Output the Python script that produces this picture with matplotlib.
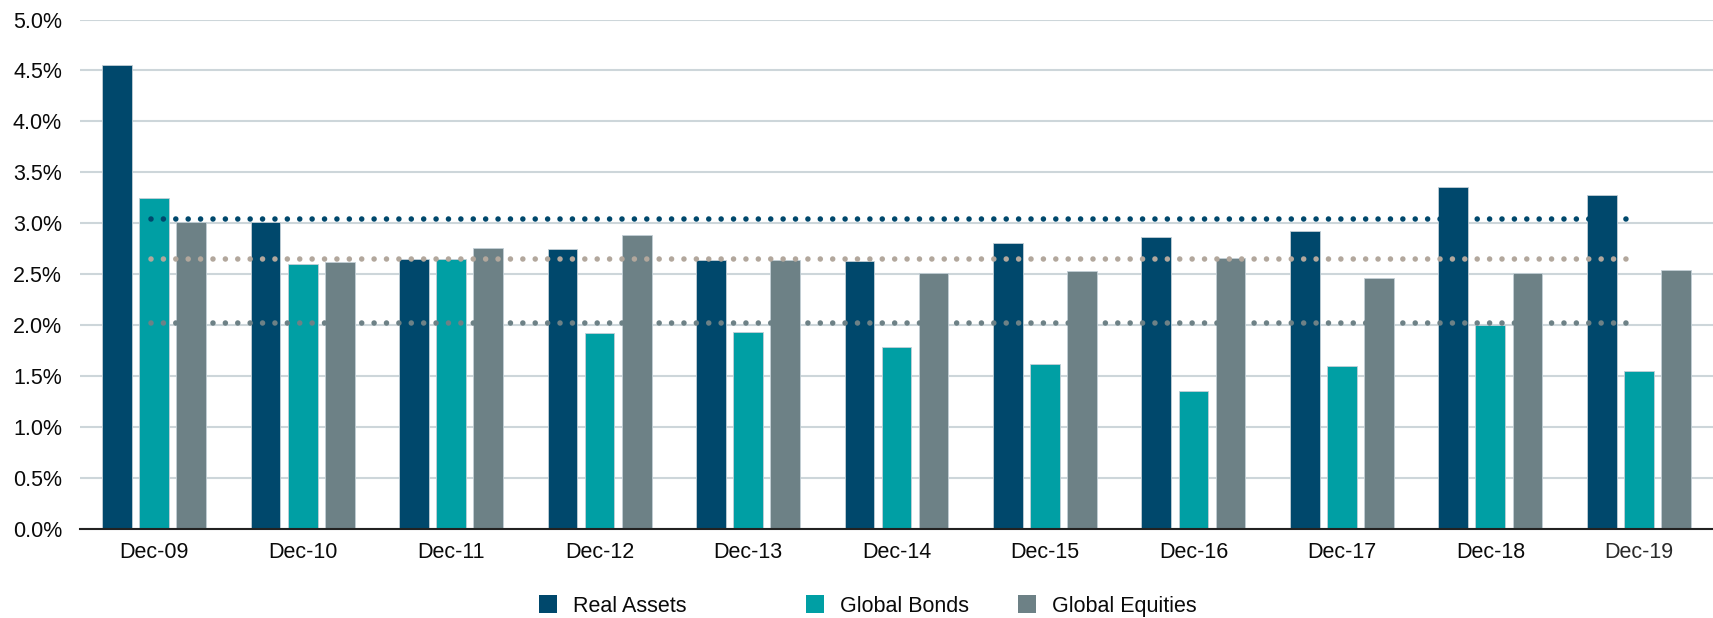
import numpy as np
import matplotlib
matplotlib.use("Agg")
import matplotlib.pyplot as plt
from matplotlib.ticker import StrMethodFormatter, MultipleLocator

plt.rcParams['font.family'] = ['Liberation Sans', 'DejaVu Sans']

categories = ["Dec-09", "Dec-10", "Dec-11", "Dec-12", "Dec-13", "Dec-14",
              "Dec-15", "Dec-16", "Dec-17", "Dec-18", "Dec-19"]
real_assets = [4.55, 3.01, 2.65, 2.75, 2.64, 2.63, 2.81, 2.87, 2.92, 3.36, 3.28]
global_bonds = [3.25, 2.60, 2.65, 1.92, 1.93, 1.79, 1.62, 1.35, 1.60, 2.00, 1.55]
global_equities = [3.01, 2.62, 2.76, 2.89, 2.64, 2.51, 2.53, 2.66, 2.46, 2.51, 2.54]
series_names = ["Real Assets", "Global Bonds", "Global Equities"]

c_navy = "#00486C"
c_teal = "#009FA4"
c_grey = "#6D8186"
c_beige = "#B2A79C"

W, H = 1713, 618
fig = plt.figure(figsize=(W / 100, H / 100), dpi=100)
ax = fig.add_axes([80 / W, 89 / H, (W - 80) / W, (529 - 19.5) / H])

x = np.arange(len(categories))
bw = 0.2
off = 0.25
series = [real_assets, global_bonds, global_equities]
colors = [c_navy, c_teal, c_grey]
containers = []
for i, (vals, col, name) in enumerate(zip(series, colors, series_names)):
    b = ax.bar(x + (i - 1) * off, vals, width=bw, color=col, label=name,
               edgecolor="#c3cfd6", linewidth=0.6, zorder=2)
    containers.append(b)

# average dotted lines
avg_colors = [c_navy, c_grey, c_beige]
for vals, col in zip(series, avg_colors):
    m = np.mean(vals)
    ax.plot([x[0] - 0.02, x[-1] - 0.03], [m, m], color=col, linewidth=4.0,
            linestyle=(0, (0.001, 2.23)), dash_capstyle='round', zorder=3)

ax.set_xlim(-0.5, 10.5)
ax.set_ylim(0, 5.0)
ax.yaxis.set_major_locator(MultipleLocator(0.5))
ax.yaxis.set_major_formatter(StrMethodFormatter('{x:.1f}%'))
ax.set_axisbelow(True)
ax.grid(axis='y', color='#cdd6da', linewidth=1.5, zorder=0)
for s in ['left', 'right', 'top']:
    ax.spines[s].set_visible(False)
ax.spines['bottom'].set_color('#222222')
ax.spines['bottom'].set_linewidth(1.5)
ax.spines['bottom'].set_zorder(4)

ax.set_xticks(x)
ax.set_xticklabels(categories)
ax.tick_params(axis='x', length=0, pad=9, labelsize=15.5, labelcolor='#0a0a0a')
ax.tick_params(axis='y', length=0, pad=13, labelsize=15.5, labelcolor='#0a0a0a')
ax.get_xticklabels()[-1].set_color('#2a2a2a')

# legend: one entry per slot
leg_x = [539, 806, 1018]
for cont, name, lx in zip(containers, series_names, leg_x):
    lg = fig.legend([cont], [name], loc='center left',
                    bbox_to_anchor=(lx / W, (H - 606) / H), frameon=False,
                    fontsize=15.5, handlelength=0.85, handleheight=0.85,
                    handletextpad=0.75, borderpad=0, borderaxespad=0)
    for t in lg.get_texts():
        t.set_color('#0a0a0a')
    for p in lg.legend_handles:
        p.set_edgecolor('none')

fig.savefig("out.png", dpi=100)
